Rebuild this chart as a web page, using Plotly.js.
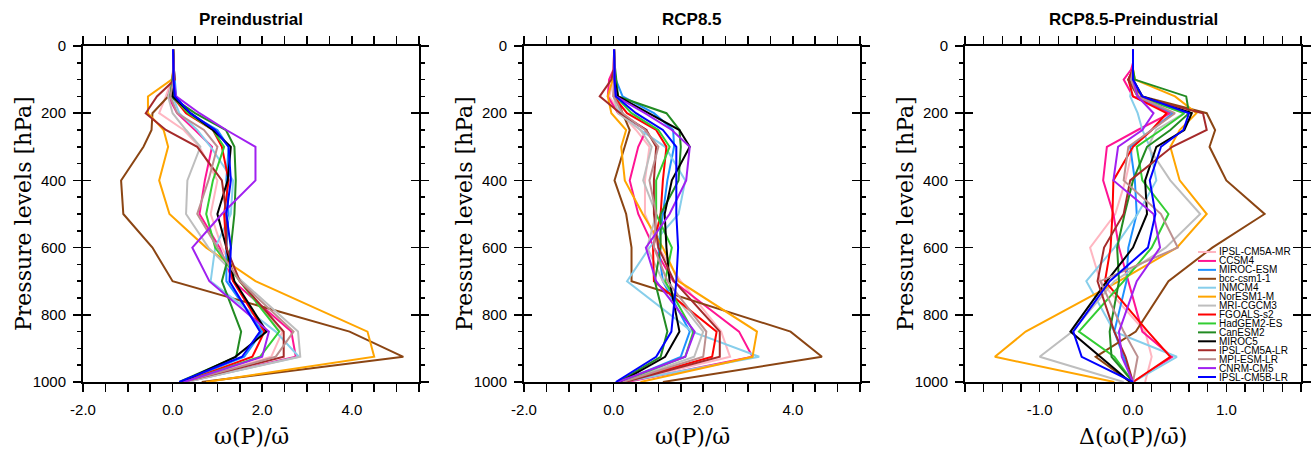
<!DOCTYPE html>
<html>
<head>
<meta charset="utf-8">
<script src="https://cdn.plot.ly/plotly-3.0.1.min.js"></script>
<style>html,body{margin:0;padding:0;background:#fff;}#chart{width:1312px;height:451px;}</style>
</head>
<body>
<div id="chart"></div>
<script>
// Pressure levels (hPa)
const levels = [1000, 925, 850, 700, 600, 500, 400, 300, 250, 200, 150, 100, 70, 50, 30, 20, 10];

const models = ["IPSL-CM5A-MR","CCSM4","MIROC-ESM","bcc-csm1-1","INMCM4","NorESM1-M","MRI-CGCM3","FGOALS-s2","HadGEM2-ES","CanESM2","MIROC5","IPSL-CM5A-LR","MPI-ESM-LR","CNRM-CM5","IPSL-CM5B-LR"];
const colors = ["#FFB6C1","#FF1493","#1E90FF","#8B4513","#87CEEB","#FFA500","#BEBEBE","#FF0000","#32CD32","#228B22","#000000","#A52A2A","#BC8F8F","#A020F0","#0000FF"];

const panelTitles = ["Preindustrial", "RCP8.5", "RCP8.5-Preindustrial"];
const xTitles = ["ω(P)/ω̄", "ω(P)/ω̄", "Δ(ω(P)/ω̄)"];
const yTitle = "Pressure levels [hPa]";

// tick labels
const xTickVals12 = [-2, 0, 2, 4];
const xTickText12 = ["-2.0", "0.0", "2.0", "4.0"];
const xTickVals3 = [-1, 0, 1];
const xTickText3 = ["-1.0", "0.0", "1.0"];
const yTickVals = [0, 200, 400, 600, 800, 1000];
const yTickText = ["0", "200", "400", "600", "800", "1000"];

// Preindustrial
const pre_IPSL_CM5A_MR = [0.25, 2.2, 2.45, 1.5, 1.1, 0.85, 1.0, 0.6, 0.25, -0.3, -0.15, -0.02, 0.01, 0.02, 0.02, 0.01, 0.01];
const pre_CCSM4        = [0.3, 2.75, 2.65, 1.35, 1.05, 0.6, 0.72, 0.88, 0.5, 0.1, -0.1, 0.0, 0.02, 0.02, 0.01, 0.01, 0.01];
const pre_MIROC_ESM    = [0.2, 1.6, 2.0, 1.2, 1.2, 1.25, 1.2, 1.25, 1.0, 0.35, 0.08, 0.04, 0.03, 0.02, 0.02, 0.01, 0.01];
const pre_bcc          = [0.65, 5.15, 3.95, 0.0, -0.45, -1.1, -1.15, -0.65, -0.47, -0.45, -0.1, 0.04, 0.03, 0.02, 0.02, 0.02, 0.02];
const pre_INMCM4       = [0.3, 2.82, 2.3, 0.85, 0.95, 1.3, 1.35, 0.85, 0.55, 0.15, 0.0, 0.02, 0.02, 0.02, 0.01, 0.01, 0.01];
const pre_NorESM1_M    = [0.75, 4.5, 4.35, 1.85, 0.75, -0.07, -0.3, -0.1, -0.2, -0.55, -0.55, -0.02, 0.02, 0.02, 0.02, 0.01, 0.01];
const pre_MRI_CGCM3    = [0.3, 2.85, 2.8, 1.55, 0.8, 0.3, 0.33, 0.62, 0.3, 0.0, -0.1, 0.0, 0.02, 0.02, 0.01, 0.01, 0.01];
const pre_FGOALS_s2    = [0.25, 1.78, 2.05, 1.35, 1.2, 1.15, 1.25, 1.1, 0.9, 0.3, 0.0, 0.03, 0.02, 0.02, 0.01, 0.01, 0.01];
const pre_HadGEM2_ES   = [0.25, 1.95, 2.38, 1.5, 0.95, 0.75, 0.9, 1.15, 0.9, 0.35, 0.0, 0.02, 0.02, 0.02, 0.01, 0.01, 0.01];
const pre_CanESM2      = [0.15, 1.42, 1.53, 1.1, 1.3, 1.38, 1.41, 1.38, 1.19, 0.5, -0.05, 0.0, 0.02, 0.02, 0.01, 0.01, 0.01];
const pre_MIROC5       = [0.2, 1.4, 2.1, 1.38, 1.2, 1.0, 1.23, 1.3, 0.9, 0.4, 0.0, 0.02, 0.02, 0.02, 0.01, 0.01, 0.01];
const pre_IPSL_CM5A_LR = [0.22, 2.48, 2.48, 1.5, 1.2, 1.2, 1.1, 0.55, -0.15, -0.6, -0.35, 0.05, 0.03, 0.02, 0.01, 0.01, 0.01];
const pre_MPI_ESM_LR   = [0.25, 2.3, 2.7, 1.5, 1.0, 0.55, 0.8, 1.0, 0.7, 0.1, -0.05, 0.02, 0.02, 0.02, 0.01, 0.01, 0.01];
const pre_CNRM_CM5     = [0.25, 2.0, 2.15, 0.82, 0.44, 1.1, 1.85, 1.85, 1.2, 0.6, 0.08, 0.02, 0.02, 0.02, 0.01, 0.01, 0.01];
const pre_IPSL_CM5B_LR = [0.15, 1.55, 1.95, 1.27, 1.3, 1.2, 1.3, 1.25, 0.95, 0.4, 0.05, 0.02, 0.02, 0.02, 0.01, 0.01, 0.01];

// RCP8.5
const rcp_IPSL_CM5A_MR = [0.25, 2.6, 2.4, 1.5, 1.0, 0.7, 0.7, 0.8, 0.5, 0.15, -0.1, 0.0, 0.02, 0.02, 0.01, 0.01, 0.01];
const rcp_CCSM4        = [0.3, 3.1, 2.8, 1.33, 0.9, 0.55, 0.36, 0.55, 0.73, 0.1, -0.13, -0.1, 0.0, 0.01, 0.01, 0.01, 0.01];
const rcp_MIROC_ESM    = [0.15, 1.5, 1.7, 1.1, 1.0, 1.1, 1.2, 1.35, 1.33, 0.9, 0.2, 0.05, 0.02, 0.02, 0.01, 0.01, 0.01];
const rcp_bcc          = [1.1, 4.65, 3.95, 0.4, 0.4, 0.28, 0.02, 0.25, 0.36, 0.2, 0.05, 0.02, 0.02, 0.02, 0.01, 0.01, 0.01];
const rcp_INMCM4       = [0.2, 3.25, 1.75, 0.3, 0.8, 1.45, 1.6, 1.15, 0.6, 0.15, 0.05, 0.02, 0.02, 0.02, 0.01, 0.01, 0.01];
const rcp_NorESM1_M    = [0.6, 3.1, 3.2, 1.45, 1.1, 0.65, 0.25, 0.17, 0.28, -0.05, -0.13, -0.02, 0.02, 0.02, 0.01, 0.01, 0.01];
const rcp_MRI_CGCM3    = [0.2, 1.8, 2.0, 1.1, 0.75, 0.95, 0.66, 0.85, 0.6, 0.1, 0.0, 0.02, 0.02, 0.02, 0.01, 0.01, 0.01];
const rcp_FGOALS_s2    = [0.2, 2.2, 2.3, 0.9, 0.88, 1.05, 1.1, 1.18, 0.95, 0.3, 0.0, 0.02, 0.02, 0.02, 0.01, 0.01, 0.01];
const rcp_HadGEM2_ES   = [0.15, 1.6, 1.78, 1.15, 1.3, 0.95, 0.95, 1.25, 1.0, 0.4, 0.05, 0.02, 0.02, 0.02, 0.01, 0.01, 0.01];
const rcp_CanESM2      = [0.1, 1.05, 1.2, 0.92, 1.05, 1.05, 1.45, 1.5, 1.47, 1.18, 0.1, 0.06, 0.02, 0.02, 0.01, 0.01, 0.01];
const rcp_MIROC5       = [0.15, 1.15, 1.47, 1.25, 1.18, 1.14, 1.3, 1.7, 1.47, 0.8, 0.1, 0.02, 0.02, 0.02, 0.01, 0.01, 0.01];
const rcp_IPSL_CM5A_LR = [0.25, 2.37, 2.37, 1.35, 1.0, 0.9, 0.9, 0.95, 0.73, 0.15, -0.31, -0.05, 0.0, 0.01, 0.01, 0.01, 0.01];
const rcp_MPI_ESM_LR   = [0.2, 2.0, 2.07, 1.2, 0.9, 0.95, 0.8, 1.0, 0.7, 0.2, 0.0, 0.02, 0.02, 0.02, 0.01, 0.01, 0.01];
const rcp_CNRM_CM5     = [0.1, 1.6, 1.81, 0.95, 0.72, 1.25, 1.62, 1.7, 1.3, 0.7, 0.05, 0.02, 0.02, 0.02, 0.01, 0.01, 0.01];
const rcp_IPSL_CM5B_LR = [0.05, 0.95, 1.29, 1.4, 1.44, 1.4, 1.4, 1.4, 1.1, 0.5, 0.05, 0.02, 0.02, 0.02, 0.01, 0.01, 0.01];

// RCP8.5 - Preindustrial
const dif_IPSL_CM5A_MR = [0.13, 0.2, 0.13, -0.35, -0.46, -0.19, -0.08, 0.0, 0.2, 0.4, 0.07, -0.03, 0.0, 0.0, 0.0, 0.0, 0.0];
const dif_CCSM4        = [0.0, 0.42, 0.1, -0.05, -0.15, -0.21, -0.32, -0.28, 0.05, 0.4, 0.0, -0.1, -0.02, 0.0, 0.0, 0.0, 0.0];
const dif_MIROC_ESM    = [0.0, -0.1, -0.2, -0.07, -0.05, 0.04, 0.02, -0.03, 0.2, 0.43, 0.05, -0.03, 0.0, 0.0, 0.0, 0.0, 0.0];
const dif_bcc          = [-0.03, -0.4, 0.03, 0.38, 0.85, 1.41, 1.0, 0.82, 0.88, 0.79, 0.1, -0.05, 0.0, 0.0, 0.0, 0.0, 0.0];
const dif_INMCM4       = [0.0, 0.47, -0.2, -0.5, -0.2, 0.05, 0.25, 0.18, 0.1, 0.05, -0.03, 0.0, 0.0, 0.0, 0.0, 0.0, 0.0];
const dif_NorESM1_M    = [-0.2, -1.48, -1.15, -0.15, 0.47, 0.79, 0.5, 0.4, 0.5, 0.68, 0.45, 0.02, 0.0, 0.0, 0.0, 0.0, 0.0];
const dif_MRI_CGCM3    = [-0.1, -1.0, -0.65, -0.2, 0.35, 0.72, 0.4, 0.16, 0.25, 0.55, 0.1, 0.0, 0.0, 0.0, 0.0, 0.0, 0.0];
const dif_FGOALS_s2    = [0.0, 0.4, 0.16, -0.3, -0.24, -0.22, -0.21, 0.0, 0.2, 0.36, 0.0, -0.05, 0.0, 0.0, 0.0, 0.0, 0.0];
const dif_HadGEM2_ES   = [0.0, -0.2, -0.58, -0.1, 0.2, 0.38, 0.1, 0.04, 0.3, 0.55, 0.05, 0.0, 0.0, 0.0, 0.0, 0.0, 0.0];
const dif_CanESM2      = [0.0, -0.23, -0.25, -0.15, -0.17, -0.09, 0.0, 0.15, 0.4, 0.6, 0.57, 0.02, 0.0, 0.0, 0.0, 0.0, 0.0];
const dif_MIROC5       = [-0.03, -0.35, -0.67, -0.28, 0.0, 0.15, 0.13, 0.25, 0.55, 0.63, 0.1, 0.0, 0.0, 0.0, 0.0, 0.0, 0.0];
const dif_IPSL_CM5A_LR = [0.0, -0.08, -0.2, -0.38, -0.31, -0.1, -0.03, 0.42, 0.79, 0.75, 0.05, -0.05, 0.0, 0.0, 0.0, 0.0, 0.0];
const dif_MPI_ESM_LR   = [0.0, 0.05, -0.1, -0.35, 0.48, 0.3, -0.1, -0.05, 0.2, 0.45, 0.05, -0.02, 0.0, 0.0, 0.0, 0.0, 0.0];
const dif_CNRM_CM5     = [0.0, -0.12, -0.15, 0.04, 0.29, 0.22, -0.21, -0.16, 0.1, 0.22, 0.05, 0.0, 0.0, 0.0, 0.0, 0.0, 0.0];
const dif_IPSL_CM5B_LR = [0.0, -0.55, -0.64, -0.25, 0.16, 0.24, 0.18, 0.3, 0.54, 0.6, 0.1, 0.0, 0.0, 0.0, 0.0, 0.0, 0.0];

const preSeries = [pre_IPSL_CM5A_MR, pre_CCSM4, pre_MIROC_ESM, pre_bcc, pre_INMCM4, pre_NorESM1_M, pre_MRI_CGCM3, pre_FGOALS_s2, pre_HadGEM2_ES, pre_CanESM2, pre_MIROC5, pre_IPSL_CM5A_LR, pre_MPI_ESM_LR, pre_CNRM_CM5, pre_IPSL_CM5B_LR];
const rcpSeries = [rcp_IPSL_CM5A_MR, rcp_CCSM4, rcp_MIROC_ESM, rcp_bcc, rcp_INMCM4, rcp_NorESM1_M, rcp_MRI_CGCM3, rcp_FGOALS_s2, rcp_HadGEM2_ES, rcp_CanESM2, rcp_MIROC5, rcp_IPSL_CM5A_LR, rcp_MPI_ESM_LR, rcp_CNRM_CM5, rcp_IPSL_CM5B_LR];
const difSeries = [dif_IPSL_CM5A_MR, dif_CCSM4, dif_MIROC_ESM, dif_bcc, dif_INMCM4, dif_NorESM1_M, dif_MRI_CGCM3, dif_FGOALS_s2, dif_HadGEM2_ES, dif_CanESM2, dif_MIROC5, dif_IPSL_CM5A_LR, dif_MPI_ESM_LR, dif_CNRM_CM5, dif_IPSL_CM5B_LR];

// ---------- layout ----------
const W = 1312, H = 451;
const panelLeftPx = [83, 524, 965];
const panelSize = 336;
const topPx = 46, botPx = 382;
const xRanges = [[-2, 5.5], [-2, 5.5], [-1.8, 1.8]];
const xTickVals = [xTickVals12, xTickVals12, xTickVals3];
const xTickText = [xTickText12, xTickText12, xTickText3];
const xMinor = [0.5, 0.5, 0.2];
const tickFont = {family: "Liberation Sans, Arial, sans-serif", size: 15, color: "#000"};
const serif = "DejaVu Serif, serif";

const traces = [];
const allSeries = [preSeries, rcpSeries, difSeries];
allSeries.forEach((set, p) => {
  set.forEach((vals, i) => {
    traces.push({
      type: "scatter", mode: "lines",
      x: vals, y: levels,
      xaxis: p === 0 ? "x" : "x" + (p + 1),
      yaxis: p === 0 ? "y" : "y" + (p + 1),
      line: {color: colors[i], width: 2},
      name: models[i], showlegend: false, hoverinfo: "skip"
    });
  });
});

const layout = {
  width: W, height: H,
  margin: {l: 0, r: 0, t: 0, b: 0},
  paper_bgcolor: "#fff", plot_bgcolor: "#fff",
  showlegend: false,
  annotations: [], shapes: []
};
const yDom = [1 - botPx / H, 1 - topPx / H];
for (let p = 0; p < 3; p++) {
  const xn = p === 0 ? "xaxis" : "xaxis" + (p + 1);
  const yn = p === 0 ? "yaxis" : "yaxis" + (p + 1);
  const xid = p === 0 ? "x" : "x" + (p + 1);
  const yid = p === 0 ? "y" : "y" + (p + 1);
  const x0 = panelLeftPx[p] / W, x1 = (panelLeftPx[p] + panelSize) / W;
  layout[xn] = {
    domain: [x0, x1], anchor: yid, range: xRanges[p],
    tickmode: "array", tickvals: xTickVals[p], ticktext: xTickText[p],
    ticks: "outside", ticklen: 8, tickwidth: 1.5, tickcolor: "#000",
    minor: {dtick: xMinor[p], tick0: 0, ticks: "outside", ticklen: 4, tickwidth: 1.5, tickcolor: "#000", showgrid: false},
    showline: true, linewidth: 2, linecolor: "#000", mirror: "allticks",
    showgrid: false, zeroline: false, tickfont: tickFont, ticklabelstandoff: 5
  };
  layout[yn] = {
    domain: yDom, anchor: xid, range: [1000, 0],
    tickmode: "array", tickvals: yTickVals, ticktext: yTickText,
    ticks: "outside", ticklen: 8, tickwidth: 1.5, tickcolor: "#000",
    minor: {dtick: 50, tick0: 0, ticks: "outside", ticklen: 4, tickwidth: 1.5, tickcolor: "#000", showgrid: false},
    showline: true, linewidth: 2, linecolor: "#000", mirror: "allticks",
    showgrid: false, zeroline: false, tickfont: tickFont, ticklabelstandoff: 4
  };
  // overlay axis for inward major ticks on y
  layout["yaxis" + (p + 4)] = {
    overlaying: yid, anchor: xid, range: [1000, 0],
    tickmode: "array", tickvals: yTickVals,
    ticks: "inside", ticklen: 8, tickwidth: 1.5, tickcolor: "#000",
    showticklabels: false, showline: true, linewidth: 2, linecolor: "#000",
    mirror: "ticks", showgrid: false, zeroline: false
  };
  const cx = (panelLeftPx[p] + panelSize / 2) / W;
  layout.annotations.push({
    xref: "paper", yref: "paper", x: cx, y: 1 - 20 / H, xanchor: "center", yanchor: "middle",
    text: panelTitles[p], showarrow: false,
    font: {family: "Liberation Sans, Arial, sans-serif", size: 17, color: "#000", weight: "bold"}
  });
  layout.annotations.push({
    xref: "paper", yref: "paper", x: cx, y: 1 - 436 / H, xanchor: "center", yanchor: "middle",
    text: xTitles[p], showarrow: false,
    font: {family: serif, size: 22, color: "#000"}
  });
  layout.annotations.push({
    xref: "paper", yref: "paper", x: (panelLeftPx[p] - 60) / W, y: 1 - 214 / H,
    xanchor: "center", yanchor: "middle", textangle: -90,
    text: yTitle, showarrow: false,
    font: {family: serif, size: 22, color: "#000"}
  });
}
// empty traces so overlay axes get subplots
for (let p = 0; p < 3; p++) {
  traces.push({type: "scatter", mode: "lines", x: [], y: [], xaxis: p === 0 ? "x" : "x" + (p + 1), yaxis: "y" + (p + 4), showlegend: false, hoverinfo: "skip"});
}

// compact legend inside panel 3
const legTop = 252, legStep = 8.93, legX0 = 1198, legX1 = 1216, legTextX = 1217;
models.forEach((m, i) => {
  const yy = 1 - (legTop + i * legStep) / H;
  layout.shapes.push({type: "line", xref: "paper", yref: "paper", x0: legX0 / W, x1: legX1 / W, y0: yy, y1: yy, line: {color: colors[i], width: 2}});
  layout.annotations.push({
    xref: "paper", yref: "paper", x: legTextX / W, y: yy, xanchor: "left", yanchor: "middle",
    text: m, showarrow: false, font: {family: "Liberation Sans, Arial, sans-serif", size: 10, color: "#000"}
  });
});

Plotly.newPlot("chart", traces, layout, {staticPlot: true, displayModeBar: false});
</script>
</body>
</html>
